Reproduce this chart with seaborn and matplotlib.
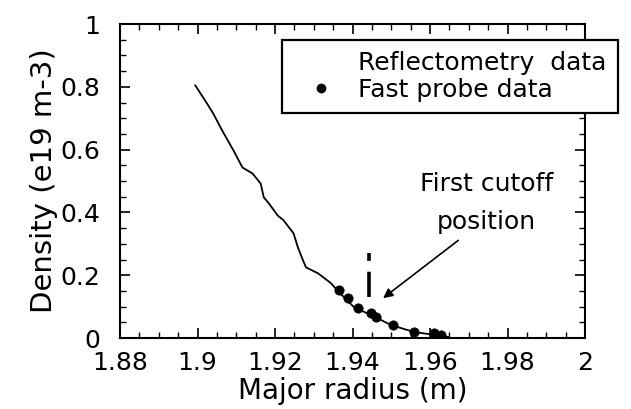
import numpy as np
import pandas as pd
import matplotlib
matplotlib.use("Agg")
import matplotlib.pyplot as plt
from matplotlib.lines import Line2D
from matplotlib.ticker import MultipleLocator, FixedLocator
import seaborn as sns

# Reflectometry density profile (major radius in m, density in 1e19 m^-3)
refl_radius = [1.8994, 1.9025, 1.9041, 1.9064, 1.9093, 1.9116, 1.9142, 1.9163,
               1.9171, 1.9184, 1.9207, 1.9222, 1.9248, 1.9259, 1.9272, 1.9280,
               1.9311, 1.9344, 1.9365, 1.9404, 1.9448, 1.9500, 1.9559, 1.9611,
               1.9648]
refl_density = [0.805, 0.746, 0.714, 0.660, 0.597, 0.543, 0.524, 0.492,
                0.448, 0.429, 0.390, 0.375, 0.333, 0.289, 0.248, 0.225,
                0.206, 0.175, 0.146, 0.098, 0.073, 0.041, 0.019, 0.010,
                0.003]

# Fast reciprocating probe measurements
probe_radius = [1.9365, 1.9388, 1.9414, 1.9448, 1.9461, 1.9505, 1.9559, 1.9611, 1.9629]
probe_density = [0.152, 0.127, 0.095, 0.079, 0.067, 0.041, 0.019, 0.016, 0.010]

# First cutoff position marker
cutoff_radius = 1.9443
cutoff_span = [0.13, 0.27]

x_ticks = [1.88, 1.90, 1.92, 1.94, 1.96, 1.98, 2.00]
x_tick_labels = ["1.88", "1.9", "1.92", "1.94", "1.96", "1.98", "2"]
y_ticks = [0, 0.2, 0.4, 0.6, 0.8, 1.0]
y_tick_labels = ["0", "0.2", "0.4", "0.6", "0.8", "1"]

refl = pd.DataFrame({"radius": refl_radius, "density": refl_density})
probe = pd.DataFrame({"radius": probe_radius, "density": probe_density})

sns.set_theme(style="ticks")
plt.rcParams["font.family"] = ["DejaVu Sans"]
plt.rcParams["text.color"] = "black"
plt.rcParams["axes.labelcolor"] = "black"

fig = plt.figure(figsize=(6.31, 4.09), dpi=100)
ax = fig.add_axes([120 / 631, 1 - 338 / 409, (585 - 120) / 631, (338 - 24) / 409])

sns.lineplot(data=refl, x="radius", y="density", ax=ax, color="black",
             linewidth=1.3, sort=False, estimator=None)
sns.scatterplot(data=probe, x="radius", y="density", ax=ax, color="black",
                s=45, marker="o", edgecolor="black", linewidth=0.5, zorder=3)

ax.plot([cutoff_radius, cutoff_radius], cutoff_span, color="black",
        linewidth=2.6, linestyle=(0, (7, 3)))

ax.annotate("", xy=(1.9479, 0.127), xytext=(1.9673, 0.311),
            arrowprops=dict(arrowstyle="-|>", color="black", lw=1.2,
                            mutation_scale=14, shrinkA=0, shrinkB=0))
ax.text(1.9746, 0.492, "First cutoff", ha="center", va="center", fontsize=18)
ax.text(1.9746, 0.368, "position", ha="center", va="center", fontsize=18)

ax.set_xlim(1.88, 2.0)
ax.set_ylim(0, 1.0)
ax.xaxis.set_major_locator(FixedLocator(x_ticks))
ax.set_xticklabels(x_tick_labels)
ax.yaxis.set_major_locator(FixedLocator(y_ticks))
ax.set_yticklabels(y_tick_labels)
ax.xaxis.set_minor_locator(MultipleLocator(0.005))
ax.yaxis.set_minor_locator(MultipleLocator(0.05))
ax.tick_params(which="both", direction="in", top=True, right=True,
               colors="black", labelsize=18)
ax.tick_params(which="major", length=7, width=1.2)
ax.tick_params(which="minor", length=4, width=1.0)
ax.tick_params(axis="y", pad=14)
ax.tick_params(axis="x", pad=9)
for side in ax.spines.values():
    side.set_color("black")
    side.set_linewidth(1.5)

ax.set_xlabel("Major radius (m)", fontsize=20, labelpad=2)
ax.set_ylabel("Density (e19 m-3)", fontsize=21, labelpad=2)

handles = [Line2D([], [], color="none"),
           Line2D([], [], color="black", marker="o", linestyle="none", markersize=6)]
leg = fig.legend(handles, ["Reflectometry  data", "Fast probe data"],
                 loc="upper left", bbox_to_anchor=(282 / 631, 1 - 40 / 409),
                 fontsize=18, frameon=True, fancybox=False, framealpha=1,
                 edgecolor="black", handlelength=2.2, handletextpad=0.4,
                 borderpad=0.45, labelspacing=0.1, borderaxespad=0)
leg.get_frame().set_linewidth(1.6)
for t in leg.get_texts():
    t.set_color("black")

fig.savefig("out.png", dpi=100)
